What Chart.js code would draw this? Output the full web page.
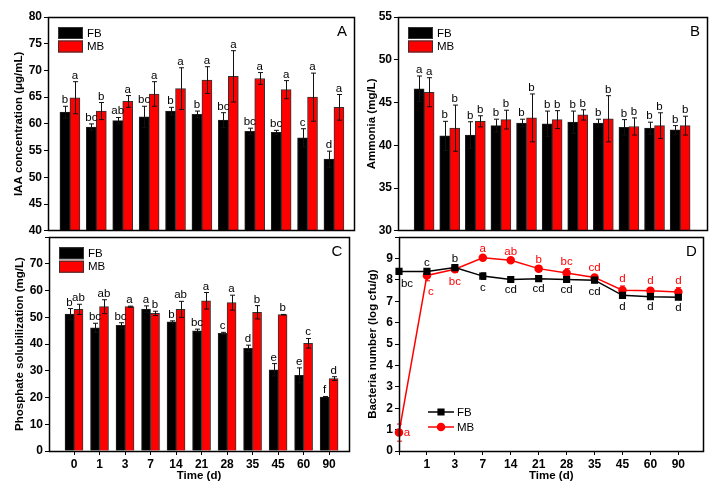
<!DOCTYPE html>
<html>
<head>
<meta charset="utf-8">
<script src="https://cdn.jsdelivr.net/npm/chart.js@4.4.1/dist/chart.umd.min.js"></script>
<style>
html,body{margin:0;padding:0;background:#fff;}
body{width:709px;height:488px;position:relative;overflow:hidden;}
canvas{position:absolute;}
</style>
</head>
<body>
<canvas id="cA" width="360" height="240" style="left:0;top:0"></canvas>
<canvas id="cB" width="354" height="240" style="left:355px;top:0"></canvas>
<canvas id="cC" width="360" height="260" style="left:0;top:228px"></canvas>
<canvas id="cD" width="354" height="260" style="left:355px;top:228px"></canvas>
<script>
// ---------- data ----------
const timeLabels = ['0','1','3','7','14','21','28','35','45','60','90'];
const seriesNames = ['FB','MB'];

// A: IAA concentration (µg/mL)
const iaaFB    = [62.2, 59.4, 60.6, 61.3, 62.4, 61.8, 60.7, 58.6, 58.4, 57.4, 53.4];
const iaaFBErr = [1.1, 0.6, 0.6, 2.0, 0.7, 0.6, 1.4, 0.6, 0.4, 1.7, 1.5];
const iaaMB    = [64.9, 62.4, 64.2, 65.6, 66.6, 68.2, 68.9, 68.5, 66.4, 65.0, 63.1];
const iaaMBErr = [3.0, 1.6, 1.1, 2.3, 3.9, 2.5, 4.8, 1.1, 1.7, 4.5, 2.4];
const iaaFBSig = ['b','bc','ab','bc','b','b','bc','bc','bc','c','d'];
const iaaMBSig = ['a','b','a','a','a','a','a','a','a','a','a'];

// B: Ammonia (mg/L)
const nhFB    = [46.6, 41.1, 41.2, 42.3, 42.6, 42.5, 42.7, 42.6, 42.1, 42.0, 41.8];
const nhFBErr = [1.5, 1.7, 1.55, 0.75, 0.45, 1.5, 1.3, 0.45, 0.9, 0.7, 0.5];
const nhMB    = [46.2, 42.0, 42.8, 43.0, 43.2, 43.0, 43.55, 43.1, 42.2, 42.3, 42.3];
const nhMBErr = [1.7, 2.7, 0.65, 1.1, 2.8, 1.05, 0.6, 2.7, 1.0, 1.5, 1.1];
const nhFBSig = ['a','b','b','b','b','b','b','b','b','b','b'];
const nhMBSig = ['a','b','b','b','b','b','b','b','b','b','b'];

// C: Phosphate solubilization (mg/L)
const psFB    = [51.2, 46.1, 47.0, 53.1, 48.3, 45.0, 44.0, 38.4, 30.4, 28.3, 20.2];
const psFBErr = [2.1, 1.7, 1.0, 1.2, 0.4, 0.6, 0.4, 1.2, 2.3, 2.8, 0.2];
const psMB    = [53.0, 54.0, 54.0, 51.5, 53.0, 56.2, 55.5, 51.9, 51.0, 40.3, 27.1];
const psMBErr = [1.9, 2.6, 0.2, 0.8, 3.0, 3.1, 2.8, 2.5, 0.1, 1.8, 0.7];
const psFBSig = ['b','bc','bc','a','b','bc','c','d','e','e','f'];
const psMBSig = ['ab','ab','a','b','ab','a','a','b','b','c','d'];

// D: Bacteria number (log cfu/g)
const bnFB    = [8.40, 8.40, 8.58, 8.18, 8.02, 8.06, 8.02, 7.99, 7.28, 7.22, 7.19];
const bnFBErr = [0.05, 0.08, 0.08, 0.15, 0.05, 0.05, 0.06, 0.12, 0.1, 0.06, 0.06];
const bnMB    = [0.86, 8.21, 8.50, 9.04, 8.92, 8.53, 8.33, 8.12, 7.52, 7.50, 7.44];
const bnMBErr = [0.4, 0.25, 0.15, 0.1, 0.08, 0.1, 0.2, 0.1, 0.2, 0.12, 0.2];
const bnFBSig = ['bc','c','b','c','cd','cd','cd','cd','d','d','d'];
const bnMBSig = ['a','c','bc','a','ab','b','bc','cd','d','d','d'];

// ---------- style ----------
const FONT = "'Liberation Sans', Arial, Helvetica, sans-serif";
Chart.defaults.font.family = FONT;
Chart.defaults.color = '#000';
Chart.defaults.animation = false;
const BLACK = '#000000', RED = '#ff0000';
const tickFont = {size: 12, weight: 'bold'};
const titleFont = {size: 11.5, weight: 'bold'};

const deco = {
  id: 'deco',
  beforeDatasetsDraw(chart, args, o) { if (o.errorsFirst) drawErrors(chart); },
  afterDatasetsDraw(chart, args, o) {
    const {ctx, chartArea: ca} = chart;
    if (!o.errorsFirst) drawErrors(chart);
    const ys = chart.scales.y;
    ctx.save();
    // significance letters
    ctx.font = '11.5px ' + FONT;
    ctx.textAlign = 'center';
    chart.data.datasets.forEach((ds, di) => {
      if (!ds.sig) return;
      const meta = chart.getDatasetMeta(di);
      ctx.fillStyle = ds.sigColor || '#000';
      meta.data.forEach((el, i) => {
        const v = ds.data[i].y, e = ds.errors[i];
        const place = ds.sigPlace ? ds.sigPlace[i] : 'bar';
        let x = el.x, y;
        ctx.textBaseline = 'middle';
        if (place === 'bar') { ctx.textBaseline = 'alphabetic'; y = ys.getPixelForValue(v + e) - 3; }
        else if (place === 'a') y = ys.getPixelForValue(v + e) - 7;
        else if (place === 'b') y = ys.getPixelForValue(v - e) + 9;
        else if (place === 'r') { x += 8; y = el.y; }
        else if (place === 'br') { x += 8; y = ys.getPixelForValue(v - e) + 11; }
        else if (place === 'bc') { x += 4; y = ys.getPixelForValue(v - e) + 11; }
        ctx.fillText(ds.sig[i], x, y);
      });
    });
    // frame
    ctx.strokeStyle = '#000'; ctx.lineWidth = 1.5;
    const l = Math.floor(ca.left) + 0.5, t = Math.floor(ca.top) + 0.5;
    const r = Math.floor(ca.right) + 0.5, b = Math.floor(ca.bottom) + 0.5;
    ctx.strokeRect(l, t, r - l, b - t);
    ctx.lineWidth = 1;
    // panel letter
    ctx.font = '15px ' + FONT; ctx.fillStyle = '#000';
    ctx.textAlign = 'center'; ctx.textBaseline = 'middle';
    ctx.fillText(o.panel, ca.right - 12, ca.top + 15);
    // legend
    ctx.font = '11.5px ' + FONT;
    ctx.textAlign = 'left';
    chart.data.datasets.forEach((ds, di) => {
      if (o.legend === 'box') {
        const bx = ca.left + 10, by = ca.top + 10 + di * 13.5;
        ctx.fillStyle = ds.backgroundColor; ctx.fillRect(bx, by, 25, 12);
        ctx.strokeStyle = '#333'; ctx.strokeRect(bx + 0.5, by + 0.5, 24, 11);
        ctx.fillStyle = '#000'; ctx.fillText(ds.label, bx + 29, by + 6.5);
      } else if (o.legend === 'line') {
        const x0 = ca.left + 29, x1 = ca.left + 55, y = ca.bottom - 39 + di * 15;
        ctx.strokeStyle = ds.borderColor; ctx.lineWidth = 1.5;
        ctx.beginPath(); ctx.moveTo(x0, y); ctx.lineTo(x1, y); ctx.stroke();
        Chart.helpers.drawPoint(ctx, {pointStyle: ds.pointStyle, radius: ds.pointRadius, borderWidth: 1},
          (x0 + x1) / 2, y);
        ctx.fillStyle = ds.borderColor;
        ctx.fill();
        ctx.fillStyle = '#000'; ctx.fillText(ds.label, x1 + 3, y + 0.5);
      }
    });
    ctx.restore();
  }
};

function drawErrors(chart) {
  const {ctx} = chart; const ys = chart.scales.y;
  ctx.save();
  ctx.lineWidth = 1;
  chart.data.datasets.forEach((ds, di) => {
    if (!ds.errors) return;
    const meta = chart.getDatasetMeta(di);
    ctx.strokeStyle = ds.errorColor || '#111';
    meta.data.forEach((el, i) => {
      const v = ds.data[i].y, e = ds.errors[i];
      const x = Math.round(el.x) + 0.5;
      const yt = ys.getPixelForValue(v + e), yb = ys.getPixelForValue(v - e);
      ctx.beginPath();
      ctx.moveTo(x, yt); ctx.lineTo(x, yb);
      ctx.moveTo(x - 2.5, yt); ctx.lineTo(x + 2.5, yt);
      ctx.moveTo(x - 2.5, yb); ctx.lineTo(x + 2.5, yb);
      ctx.stroke();
    });
  });
  ctx.restore();
}

const xy = arr => arr.map((v, i) => ({x: i, y: v}));
const idxTicks = scale => { scale.ticks = timeLabels.map((_, i) => ({value: i})); };

function barChart(id, cfg) {
  return new Chart(document.getElementById(id), {
    type: 'bar',
    plugins: [deco],
    data: {
      datasets: [
        {label: seriesNames[0], data: xy(cfg.fb), errors: cfg.fbErr, sig: cfg.fbSig,
         backgroundColor: BLACK, borderColor: '#222', borderWidth: 1, barThickness: cfg.bar},
        {label: seriesNames[1], data: xy(cfg.mb), errors: cfg.mbErr, sig: cfg.mbSig,
         backgroundColor: RED, borderColor: '#333', borderWidth: 1, barThickness: cfg.bar}
      ]
    },
    options: {
      responsive: false,
      layout: {padding: cfg.pad},
      plugins: {legend: {display: false}, tooltip: {enabled: false},
        deco: {panel: cfg.panel, legend: 'box'}},
      scales: {
        x: {
          type: 'linear', min: cfg.xmin, max: cfg.xmax, offset: false,
          afterBuildTicks: idxTicks,
          afterFit: s => { s.height = cfg.xh; },
          grid: {display: true, drawOnChartArea: false, drawTicks: cfg.xlabels, tickLength: 4, color: '#000', offset: false},
          border: {display: true, color: '#000'},
          ticks: {display: cfg.xlabels, autoSkip: false, maxRotation: 0, padding: 2, font: tickFont,
                  callback: v => timeLabels[v]},
          title: {display: cfg.xlabels, text: 'Time (d)', font: titleFont, padding: {top: 0, bottom: 5.5}}
        },
        y: {
          min: cfg.ymin, max: cfg.ymax,
          afterFit: s => { s.width = cfg.yw; },
          grid: {display: true, drawOnChartArea: false, drawTicks: true, tickLength: 4, color: '#000'},
          border: {display: true, color: '#000'},
          ticks: {stepSize: cfg.step, padding: 2, font: tickFont,
                  callback: v => (cfg.hideTop && v === cfg.ymax) ? '' : v},
          title: {display: true, text: cfg.ytitle, font: titleFont, padding: {top: cfg.ytp, bottom: 0}}
        }
      }
    }
  });
}

barChart('cA', {fb: iaaFB, fbErr: iaaFBErr, fbSig: iaaFBSig, mb: iaaMB, mbErr: iaaMBErr, mbSig: iaaMBSig,
  panel: 'A', bar: 10, pad: {top: 17, right: 6, left: 0, bottom: 0}, xmin: -0.83, xmax: 10.76, xh: 7, xlabels: false,
  ymin: 40, ymax: 80, step: 5, yw: 48, ytp: 12, ytitle: 'IAA concentration (μg/mL)', hideTop: false});

barChart('cB', {fb: nhFB, fbErr: nhFBErr, fbSig: nhFBSig, mb: nhMB, mbErr: nhMBErr, mbSig: nhMBSig,
  panel: 'B', bar: 10, pad: {top: 17, right: 2, left: 0, bottom: 0}, xmin: -1.02, xmax: 11.05, xh: 7, xlabels: false,
  ymin: 30, ymax: 55, step: 5, yw: 43, ytp: 10, ytitle: 'Ammonia (mg/L)', hideTop: false});

barChart('cC', {fb: psFB, fbErr: psFBErr, fbSig: psFBSig, mb: psMB, mbErr: psMBErr, mbSig: psMBSig,
  panel: 'C', bar: 9, pad: {top: 6, right: 11, left: 0, bottom: 0}, xmin: -0.98, xmax: 10.78, xh: 37, xlabels: true,
  ymin: 0, ymax: 80, step: 10, yw: 49, ytp: 13, ytitle: 'Phosphate solubilization (mg/L)', hideTop: true});

new Chart(document.getElementById('cD'), {
  type: 'line',
  plugins: [deco],
  data: {
    datasets: [
      {label: seriesNames[0], data: xy(bnFB), errors: bnFBErr, sig: bnFBSig, sigColor: BLACK,
       sigPlace: ['br','a','a','b','b','b','b','b','b','b','b'], errorColor: BLACK,
       borderColor: BLACK, backgroundColor: BLACK, borderWidth: 1.5,
       pointStyle: 'rect', pointRadius: 4, pointBackgroundColor: BLACK, pointBorderColor: BLACK, clip: false},
      {label: seriesNames[1], data: xy(bnMB), errors: bnMBErr, sig: bnMBSig, sigColor: RED,
       sigPlace: ['r','bc','b','a','a','a','a','a','a','a','a'], errorColor: RED,
       borderColor: RED, backgroundColor: RED, borderWidth: 1.5,
       pointStyle: 'circle', pointRadius: 3.5, pointBackgroundColor: RED, pointBorderColor: RED, clip: false}
    ]
  },
  options: {
    responsive: false,
    layout: {padding: {top: 7, right: 4, left: 0, bottom: 0}},
    plugins: {legend: {display: false}, tooltip: {enabled: false},
      deco: {panel: 'D', legend: 'line', errorsFirst: true}},
    scales: {
      x: {
        type: 'linear', min: 0, max: 10.9, offset: false,
        afterBuildTicks: idxTicks,
        afterFit: s => { s.height = 37; },
        grid: {display: true, drawOnChartArea: false, drawTicks: true, tickLength: 4, color: '#000'},
        border: {display: true, color: '#000'},
        ticks: {autoSkip: false, maxRotation: 0, padding: 2, font: tickFont,
                callback: v => v === 0 ? '' : timeLabels[v]},
        title: {display: true, text: 'Time (d)', font: titleFont, padding: {top: 0, bottom: 5.5}}
      },
      y: {
        min: 0, max: 10,
        afterFit: s => { s.width = 44; },
        grid: {display: true, drawOnChartArea: false, drawTicks: true, tickLength: 4, color: '#000'},
        border: {display: true, color: '#000'},
        ticks: {stepSize: 1, padding: 2, font: tickFont, callback: v => v === 10 ? '' : v},
        title: {display: true, text: 'Bacteria number (log cfu/g)', font: titleFont, padding: {top: 11, bottom: 0}}
      }
    }
  }
});
</script>
</body>
</html>
